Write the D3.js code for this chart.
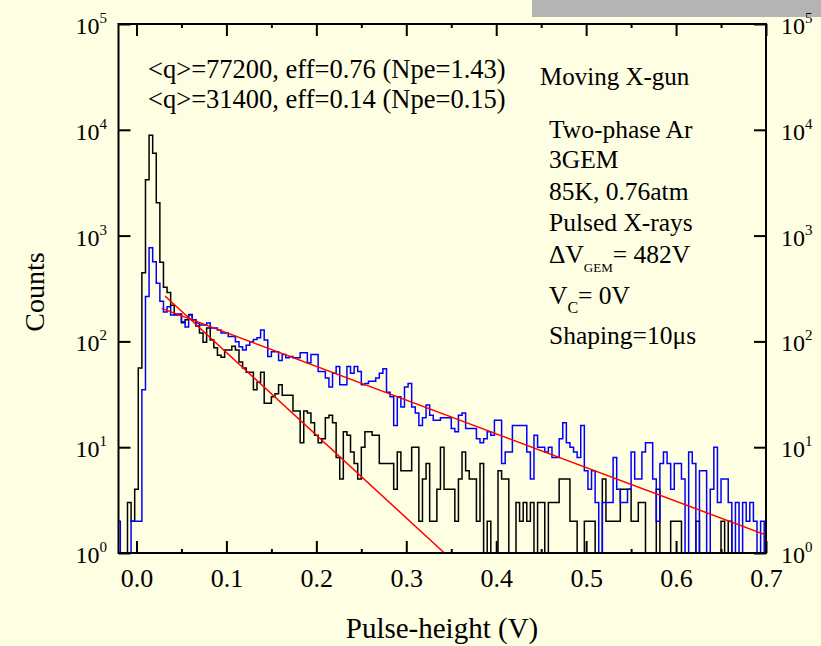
<!DOCTYPE html>
<html>
<head>
<meta charset="utf-8">
<script src="https://cdn.jsdelivr.net/npm/d3@7"></script>
<style>
  body { margin: 0; background: #fefee2; }
  svg text { font-family: "Liberation Serif", "Times New Roman", serif; fill: #000; }
</style>
</head>
<body>
<div id="chart"></div>
<script>
// pulse-height spectra, two runs, log counts

// histogram binning (V)
const binStart = -0.022;
const binWidth = 0.004;

// black run (<q>=31400) counts per bin
const countsBlack = [
  0, 0, 0, 3, 2, 4, 56, 445, 3380, 8900, 6000, 2040, 560, 325, 290, 220, 180, 180, 150, 160,
  180, 160, 140, 120, 98, 134, 103, 87, 74, 71, 83, 83, 90, 83, 64, 56, 51, 51, 35, 41,
  51, 26, 26, 30, 32, 39, 31, 31, 31, 22, 22, 11, 22, 21, 17, 13, 11, 12, 19, 20,
  17, 8, 5, 14, 13, 9, 7, 5, 10, 14, 14, 13, 13, 7, 7, 7, 7, 4, 9, 6,
  6, 6, 10, 10, 2, 5, 7, 2, 2, 4, 10, 4, 4, 4, 2, 5, 9, 6, 5, 5,
  2, 7, 0, 2, 0, 1, 6, 5, 5, 0, 0, 3, 2, 3, 2, 3, 0, 3, 3, 0,
  3, 3, 3, 5, 5, 5, 2, 2, 0, 0, 2, 2, 2, 0, 0, 5, 2, 2, 2, 2,
  4, 4, 4, 2, 2, 3, 3, 0, 0, 0, 4, 0, 0, 0, 2, 2, 2, 0, 0, 0,
  0, 2, 0, 0, 0, 0, 0, 0, 2, 0, 2, 0, 0, 0, 0, 0, 0, 0, 0, 0, 0
];

// blue run (<q>=77200) counts per bin
const countsBlue = [
  2, 0, 0, 0, 2, 2, 2, 35, 265, 767, 566, 354, 240, 190, 213, 178, 178, 182, 153, 137,
  178, 160, 149, 143, 143, 149, 134, 134, 128, 120, 120, 111, 111, 99, 89, 83, 92, 99, 104, 108,
  128, 103, 72, 80, 80, 66, 75, 70, 72, 70, 70, 78, 78, 63, 75, 75, 52, 52, 45, 37,
  50, 58, 39, 39, 58, 50, 58, 52, 39, 40, 42, 42, 45, 50, 55, 33, 30, 16, 30, 24,
  37, 40, 24, 21, 16, 19, 25, 20, 18, 18, 19, 19, 19, 15, 14, 20, 21, 15, 15, 15,
  12, 11, 12, 14, 13, 18, 18, 7, 9, 9, 16, 16, 16, 16, 9, 5, 13, 10, 10, 9,
  10, 8, 8, 12, 17, 11, 10, 9, 8, 16, 6, 4, 6, 3, 0, 3, 3, 3, 8, 4,
  3, 3, 4, 9, 5, 5, 9, 11, 11, 5, 2, 7, 9, 7, 4, 7, 7, 5, 0, 9,
  7, 0, 6, 6, 0, 4, 10, 3, 5, 5, 3, 0, 3, 0, 3, 2, 3, 2, 0, 2, 0
];

// exponential fits (end points)
const fitBlueX = [0.028, 0.7];
const fitBlueY = [205, 1.48];
const fitBlackX = [0.0317, 0.3424];
const fitBlackY = [269, 1];

// ticks
const xTicks = [0.0, 0.1, 0.2, 0.3, 0.4, 0.5, 0.6, 0.7];
const xMinor = [0.05, 0.15, 0.25, 0.35, 0.45, 0.55, 0.65];
const yTicks = [1, 10, 100, 1000, 10000, 100000];
const yExp = ['0', '1', '2', '3', '4', '5'];

// notes
const fitNotes = ['<q>=77200, eff=0.76 (Npe=1.43)', '<q>=31400, eff=0.14 (Npe=0.15)'];
const condLines = ['Two-phase Ar', '3GEM', '85K, 0.76atm', 'Pulsed X-rays'];

const W = 821, H = 646;
const pL = 118.5, pR = 766, pT = 24, pB = 553;

const svg = d3.select('#chart').append('svg')
  .attr('width', W)
  .attr('height', H);

svg.append('rect').attr('width', W).attr('height', H).attr('fill', '#fefee2');
// grey strip in the corner
svg.append('rect').attr('x', 532).attr('y', 0).attr('width', W - 532).attr('height', 17).attr('fill', '#b4b4b4');

const x = d3.scaleLinear().domain([-0.02, 0.7]).range([pL, pR]);
const y = d3.scaleLog().domain([1, 1e5]).range([pB, pT]);

svg.append('clipPath').attr('id', 'plotclip')
  .append('rect').attr('x', pL).attr('y', pT).attr('width', pR - pL).attr('height', pB - pT);

// histogram -> step points
function stepPoints(counts) {
  const pts = counts.map((c, i) => [binStart + i * binWidth, Math.max(c, 1)]);
  pts.push([binStart + counts.length * binWidth, Math.max(counts[counts.length - 1], 1)]);
  return pts;
}

const stepLine = d3.line()
  .x(d => x(d[0]))
  .y(d => y(d[1]))
  .curve(d3.curveStepAfter);

const plot = svg.append('g').attr('clip-path', 'url(#plotclip)');

plot.append('path')
  .attr('d', stepLine(stepPoints(countsBlack)))
  .attr('fill', 'none')
  .attr('stroke', '#000')
  .attr('stroke-width', 1.5);

plot.append('path')
  .attr('d', stepLine(stepPoints(countsBlue)))
  .attr('fill', 'none')
  .attr('stroke', '#0000ff')
  .attr('stroke-width', 1.5);

const fitLine = d3.line().x(d => x(d[0])).y(d => y(d[1]));
[[fitBlueX, fitBlueY], [fitBlackX, fitBlackY]].forEach(f => {
  plot.append('path')
    .attr('d', fitLine(f[0].map((v, i) => [v, f[1][i]])))
    .attr('fill', 'none')
    .attr('stroke', '#ff0000')
    .attr('stroke-width', 1.5);
});

// axes: ticks pointing inside
function tickAxis(axis, tr) {
  const g = svg.append('g').attr('transform', tr).call(axis);
  g.select('.domain').remove();
  g.selectAll('line').attr('stroke', '#000').attr('stroke-width', 2);
  return g;
}

const xb = tickAxis(d3.axisBottom(x).tickValues(xTicks).tickSize(-12).tickPadding(15.5).tickFormat(d3.format('.1f')), `translate(0,${pB})`);
xb.selectAll('text').attr('font-size', 26).attr('font-family', '"Liberation Serif", serif');
tickAxis(d3.axisBottom(x).tickValues(xMinor).tickSize(-4).tickFormat(''), `translate(0,${pB})`);
tickAxis(d3.axisTop(x).tickValues(xTicks).tickSize(-12).tickFormat(''), `translate(0,${pT})`);
tickAxis(d3.axisTop(x).tickValues(xMinor).tickSize(-4).tickFormat(''), `translate(0,${pT})`);
tickAxis(d3.axisLeft(y).tickValues(yTicks).tickSize(-12).tickFormat(''), `translate(${pL},0)`);
tickAxis(d3.axisRight(y).tickValues(yTicks).tickSize(-12).tickFormat(''), `translate(${pR},0)`);

// frame
svg.append('rect')
  .attr('x', pL).attr('y', pT)
  .attr('width', pR - pL).attr('height', pB - pT)
  .attr('fill', 'none').attr('stroke', '#000').attr('stroke-width', 2);

// 10^n labels both sides
function powLabels(xPos, anchor) {
  yTicks.forEach((v, i) => {
    const t = svg.append('text')
      .attr('x', xPos)
      .attr('y', y(v) + 10)
      .attr('text-anchor', anchor)
      .attr('font-size', 24);
    t.append('tspan').text('10');
    t.append('tspan').attr('dy', -11).attr('font-size', 15).text(yExp[i]);
  });
}
powLabels(107, 'end');
powLabels(781, 'start');

// axis titles
svg.append('text')
  .attr('transform', 'translate(44,292) rotate(-90)')
  .attr('text-anchor', 'middle')
  .attr('font-size', 28)
  .text('Counts');

svg.append('text')
  .attr('x', 442).attr('y', 638)
  .attr('text-anchor', 'middle')
  .attr('font-size', 29)
  .text('Pulse-height (V)');

// fit results
fitNotes.forEach((s, i) => {
  svg.append('text').attr('x', 148).attr('y', 78 + i * 29.5).attr('font-size', 26.5).text(s);
});

svg.append('text').attr('x', 540).attr('y', 85).attr('font-size', 25).text('Moving X-gun');

const condY = [138, 168, 200, 231];
condLines.forEach((s, i) => {
  svg.append('text').attr('x', 549).attr('y', condY[i]).attr('font-size', 25.5).text(s);
});

const dv = svg.append('text').attr('x', 549).attr('y', 263).attr('font-size', 25.5);
dv.append('tspan').text('\u0394V');
dv.append('tspan').attr('dy', 9).attr('font-size', 13).text('GEM');
dv.append('tspan').attr('dy', -9).text('= 482V');

const vc = svg.append('text').attr('x', 549).attr('y', 304).attr('font-size', 25.5);
vc.append('tspan').text('V');
vc.append('tspan').attr('dy', 9).attr('font-size', 16).text('C');
vc.append('tspan').attr('dy', -9).text('= 0V');

svg.append('text').attr('x', 549).attr('y', 344).attr('font-size', 25.5).text('Shaping=10\u03bcs');
</script>
</body>
</html>
